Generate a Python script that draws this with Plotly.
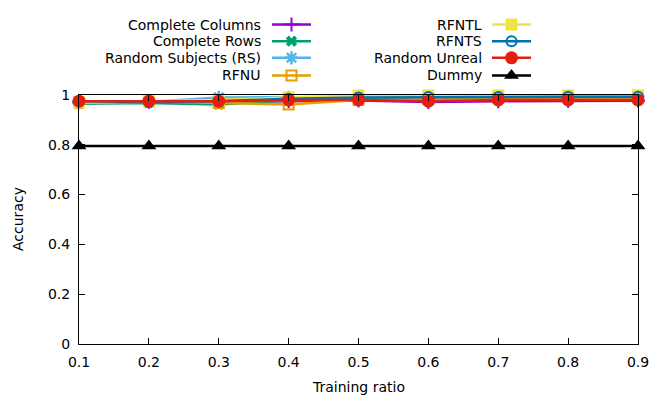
import plotly.graph_objects as go

ratios = [0.1, 0.2, 0.3, 0.4, 0.5, 0.6, 0.7, 0.8, 0.9]
series_names = ["Complete Columns", "Complete Rows", "Random Subjects (RS)", "RFNU",
                "RFNTL", "RFNTS", "Random Unreal", "Dummy"]
complete_columns = [0.972, 0.972, 0.972, 0.975, 0.978, 0.972, 0.975, 0.976, 0.977]
complete_rows = [0.965, 0.968, 0.962, 0.978, 0.985, 0.988, 0.99, 0.99, 0.99]
random_subjects = [0.968, 0.972, 0.99, 0.99, 0.992, 0.993, 0.993, 0.994, 0.994]
rfnu = [0.97, 0.975, 0.968, 0.962, 0.98, 0.985, 0.988, 0.99, 0.99]
rfntl = [0.97, 0.975, 0.98, 0.99, 0.998, 0.998, 0.998, 0.998, 0.998]
rfnts = [0.975, 0.972, 0.975, 0.985, 0.99, 0.992, 0.992, 0.993, 0.993]
random_unreal = [0.975, 0.975, 0.975, 0.98, 0.98, 0.975, 0.98, 0.98, 0.98]
dummy = [0.795, 0.795, 0.795, 0.795, 0.795, 0.795, 0.795, 0.795, 0.795]
x_ticks = [0.1, 0.2, 0.3, 0.4, 0.5, 0.6, 0.7, 0.8, 0.9]
y_ticks = [0, 0.2, 0.4, 0.6, 0.8, 1]
y_tick_labels = ["0", "0.2", "0.4", "0.6", "0.8", "1"]

values = [complete_columns, complete_rows, random_subjects, rfnu, rfntl, rfnts, random_unreal, dummy]
colors = ["#9400d3", "#009e73", "#56b4e9", "#e69f00", "#f0e442", "#0072b2", "#e51e10", "#000000"]
symbols = ["cross-thin-open", "x", "asterisk-open", "square-open", "square", "circle-open",
           "circle", "triangle-up"]
sizes = [10, 10, 11, 10, 12, 10, 13, 13]
mlw = [2, 0, 2.5, 2, 0, 2, 0, 0]

FONT = "DejaVu Sans"
FS = 14
W, H = 664, 399
ml, mr, mt, mb = 79, 26, 89, 55
paper_h = H - mb          # paper spans from y=0 to y=H-mb in pixels (top margin 0)
paper_w = W - ml - mr
plot_h = H - mt - mb


def px_x(px):
    return (px - ml) / paper_w


def px_y(py):
    return (paper_h - py) / paper_h


fig = go.Figure()

for name, vals, c, s, sz, lw in zip(series_names, values, colors, symbols, sizes, mlw):
    fig.add_trace(go.Scatter(
        x=ratios, y=vals, mode="lines+markers", name=name, showlegend=False,
        line=dict(color=c, width=2.5),
        marker=dict(symbol=s, size=sz, color=c, line=dict(color=c, width=lw)),
        cliponaxis=False, xaxis="x", yaxis="y",
    ))

# gnuplot-style key: text right-aligned, sample to its right (pixel-space overlay axes)
leg_rows_y = [17, 34, 51, 69]
col_text_right = [263, 484]
col_line = [(272, 311), (492, 531)]
for i, (name, c, s, sz, lw) in enumerate(zip(series_names, colors, symbols, sizes, mlw)):
    col, row = i // 4, i % 4
    ypx = leg_rows_y[row]
    x0, x1 = col_line[col]
    fig.add_trace(go.Scatter(
        x=[x0, x1], y=[ypx, ypx], xaxis="x2", yaxis="y2", mode="lines",
        line=dict(color=c, width=2.5), showlegend=False, hoverinfo="skip"))
    fig.add_trace(go.Scatter(
        x=[(x0 + x1) / 2], y=[ypx], xaxis="x2", yaxis="y2", mode="markers",
        marker=dict(symbol=s, size=sz, color=c, line=dict(color=c, width=lw)),
        showlegend=False, hoverinfo="skip", cliponaxis=False))
    fig.add_annotation(x=px_x(col_text_right[col]), y=px_y(ypx), xref="paper", yref="paper",
                       text=name, showarrow=False, xanchor="right", yanchor="middle",
                       font=dict(family=FONT, size=FS, color="#000000"))

# axis titles
fig.add_annotation(x=px_x(358), y=px_y(388), xref="paper", yref="paper", text="Training ratio",
                   showarrow=False, xanchor="center", yanchor="middle",
                   font=dict(family=FONT, size=FS, color="#000000"))
fig.add_annotation(x=px_x(18), y=px_y(216), xref="paper", yref="paper", text="Accuracy",
                   textangle=-90, showarrow=False, xanchor="center", yanchor="middle",
                   font=dict(family=FONT, size=FS, color="#000000"))

axis_common = dict(ticks="inside", ticklen=6, tickcolor="#000000", mirror="allticks",
                   showline=True, linecolor="#000000", linewidth=1, showgrid=False,
                   zeroline=False)
fig.update_layout(
    width=W, height=H,
    margin=dict(l=ml, r=mr, t=0, b=mb, pad=0),
    plot_bgcolor="rgba(0,0,0,0)", paper_bgcolor="white",
    font=dict(family=FONT, size=FS, color="#000000"),
    xaxis=dict(range=[0.1, 0.9], tickvals=x_ticks, ticktext=[str(v) for v in x_ticks],
               ticklabelstandoff=5, domain=[0, 1], anchor="y", **axis_common),
    yaxis=dict(range=[0, 1], tickvals=y_ticks, ticktext=y_tick_labels,
               ticklabelstandoff=5, domain=[0, plot_h / paper_h], anchor="x", **axis_common),
    xaxis2=dict(range=[ml, W - mr], domain=[0, 1], anchor="y2", visible=False,
                fixedrange=True),
    yaxis2=dict(range=[paper_h, 0], domain=[0, 1], anchor="x2", visible=False,
                fixedrange=True),
    showlegend=False,
)

fig.write_html("out.html", config={"displayModeBar": False},
               post_script="document.body.style.margin='0px';")
